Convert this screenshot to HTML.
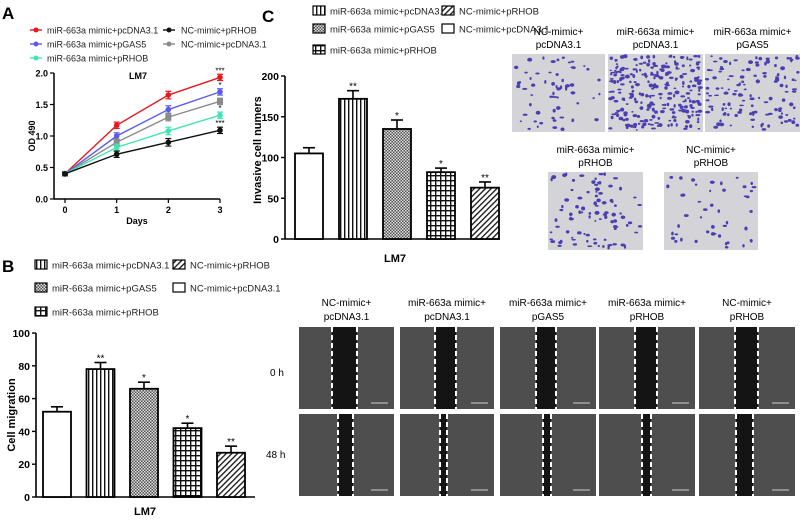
<!DOCTYPE html>
<html><head><meta charset="utf-8"><style>
html,body{margin:0;padding:0;background:#fff;}
svg{display:block;font-family:"Liberation Sans",Arial,sans-serif;}
</style></head><body>
<svg id="fig" width="800" height="521" viewBox="0 0 800 521">
<defs>
<pattern id="pVert" width="4" height="4" patternUnits="userSpaceOnUse"><rect width="4" height="4" fill="#fff"/><rect x="0" width="1.4" height="4" fill="#111"/></pattern>
<pattern id="pDense" width="3" height="3" patternUnits="userSpaceOnUse"><rect width="3" height="3" fill="#555"/><rect width="1.5" height="1.5" fill="#ddd"/><rect x="1.5" y="1.5" width="1.5" height="1.5" fill="#ddd"/></pattern>
<pattern id="pGrid" width="5" height="5" patternUnits="userSpaceOnUse"><rect width="5" height="5" fill="#fff"/><rect width="1.4" height="5" fill="#111"/><rect width="5" height="1.4" fill="#111"/></pattern>
<pattern id="pDiag" width="4" height="4" patternUnits="userSpaceOnUse" patternTransform="rotate(45)"><rect width="4" height="4" fill="#fff"/><rect width="1.3" height="4" fill="#111"/></pattern>
</defs>
<text x="2" y="19" font-size="17" font-weight="bold">A</text>
<text x="262" y="22" font-size="17" font-weight="bold">C</text>
<text x="2" y="272" font-size="17" font-weight="bold">B</text>
<g id="gA"></g><g id="gC"></g><g id="gB"></g><g id="gImgC"></g><g id="gImgB"></g>
</svg>
<script>
const NS="http://www.w3.org/2000/svg";
function mk(tag,attrs,parent,txt){const e=document.createElementNS(NS,tag);for(const k in attrs)e.setAttribute(k,attrs[k]);if(txt!==undefined)e.textContent=txt;parent.appendChild(e);return e;}
let seed=7;function rnd(){seed=(seed*9301+49297)%233280;return seed/233280;}

// ===== Panel A data =====
const daysA=[0,1,2,3];
const seriesNamesA=["miR-663a mimic+pcDNA3.1","miR-663a mimic+pGAS5","NC-mimic+pcDNA3.1","miR-663a mimic+pRHOB","NC-mimic+pRHOB"];
const redA=[0.40,1.17,1.65,1.93];
const blueA=[0.40,1.00,1.42,1.70];
const grayA=[0.40,0.90,1.30,1.55];
const cyanA=[0.40,0.82,1.08,1.33];
const blackA=[0.40,0.71,0.90,1.09];
const errA=[0.02,0.05,0.06,0.05];
const starsA=["***","*","","*","***"];
const yTicksA=["0.0","0.5","1.0","1.5","2.0"];
// ===== Panel C data =====
const groupsBar=["NC-mimic+pcDNA3.1","miR-663a mimic+pcDNA3.1","miR-663a mimic+pGAS5","miR-663a mimic+pRHOB","NC-mimic+pRHOB"];
const valuesC=[105,172,135,82,63];
const errC=[7,10,11,5,7];
const starsC=["","**","*","*","**"];
const yTicksC=["0","50","100","150","200"];
// ===== Panel B data =====
const valuesB=[52,78,66,42,27];
const errB=[3,4,4,3,4];
const starsB=["","**","*","*","**"];
const yTicksB=["0","20","40","60","80","100"];

const fills=["#fff","url(#pVert)","url(#pDense)","url(#pGrid)","url(#pDiag)"];

// ---- Panel A ----
(function(){
const g=document.getElementById('gA');
const x0=65,x1=220,y0=199,y1=73;
const xs=d=>x0+(x1-x0)*d/3, ys=v=>y0-(y0-y1)*v/2;
const cols=["#e8191e","#5b5bef","#8a8a8a","#3fe6b5","#111"];
const data=[redA,blueA,grayA,cyanA,blackA];
mk('line',{x1:54,y1:ys(0),x2:54,y2:ys(2),stroke:'#000','stroke-width':1.5},g);
mk('line',{x1:54,y1:ys(0),x2:x1,y2:ys(0),stroke:'#000','stroke-width':1.5},g);
yTicksA.forEach((t,i)=>{const y=ys(i*0.5);mk('line',{x1:50,y1:y,x2:54,y2:y,stroke:'#000','stroke-width':1.2},g);
 const tx=mk('text',{x:48,y:y+3.5,'font-size':9,'font-weight':'bold','text-anchor':'end'},g,t);});
daysA.forEach(d=>{const x=xs(d);mk('line',{x1:x,y1:ys(0),x2:x,y2:ys(0)+4,stroke:'#000','stroke-width':1.2},g);
 const tx=mk('text',{x:x,y:ys(0)+14,'font-size':9,'font-weight':'bold','text-anchor':'middle'},g,String(d));});
let t=mk('text',{x:137,y:224,'font-size':9,'font-weight':'bold','text-anchor':'middle'},g,'Days');
t=mk('text',{x:0,y:0,'font-size':9,'font-weight':'bold','text-anchor':'middle',transform:'translate(35,136) rotate(-90)'},g,'OD 490');
t=mk('text',{x:138,y:79,'font-size':9,'font-weight':'bold','text-anchor':'middle'},g,'LM7');
data.forEach((s,k)=>{
 const pts=s.map((v,i)=>xs(daysA[i])+','+ys(v)).join(' ');
 const pl=mk('polyline',{points:pts,fill:'none',stroke:cols[k],'stroke-width':1.4},g);
 
 s.forEach((v,i)=>{const x=xs(daysA[i]),y=ys(v),e=(y0-y1)*errA[i]/2;
  mk('line',{x1:x,y1:y-e,x2:x,y2:y+e,stroke:cols[k],'stroke-width':1.2},g);
  mk('line',{x1:x-3,y1:y-e,x2:x+3,y2:y-e,stroke:cols[k],'stroke-width':1.2},g);
  mk('line',{x1:x-3,y1:y+e,x2:x+3,y2:y+e,stroke:cols[k],'stroke-width':1.2},g);
  const m=k==2?mk('rect',{x:x-3,y:y-3,width:6,height:6,fill:cols[k]},g):mk('circle',{cx:x,cy:y,r:2.8,fill:cols[k]},g);
  
 });
 if(starsA[k]){const st=mk('text',{x:xs(3),y:ys(s[3])-(y0-y1)*errA[3]/2-1,'font-size':8,'text-anchor':'middle'},g,starsA[k]);}
});
const leg=[[30,30,0,47],[30,44,1,47],[30,58,3,47],[163,30,4,181],[163,44,2,181]];
leg.forEach(([x,y,k,tx0])=>{mk('line',{x1:x,y1:y,x2:x+12,y2:y,stroke:cols[k],'stroke-width':1.4},g);
 mk('circle',{cx:x+6,cy:y,r:2.5,fill:cols[k]},g);
 const tx=mk('text',{x:tx0,y:y+3.5,'font-size':9,fill:'#222'},g,seriesNamesA[k]);});
})();

// ---- bar chart helper ----
function barChart(g,p,vals,errs,stars,ticks,tmax,prefix){
 const ys=v=>p.y0-(p.y0-p.y1)*v/tmax;
 let e=mk('line',{x1:p.ax,y1:p.y0,x2:p.ax,y2:p.y1,stroke:'#000','stroke-width':1.6},g);
 e=mk('line',{x1:p.ax,y1:p.y0,x2:p.axEnd,y2:p.y0,stroke:'#000','stroke-width':1.6},g);
 ticks.forEach(t=>{const y=ys(+t);mk('line',{x1:p.ax-4,y1:y,x2:p.ax,y2:y,stroke:'#000','stroke-width':1.4},g);
  const tx=mk('text',{x:p.ax-6,y:y+4,'font-size':10.5,'font-weight':'bold','text-anchor':'end'},g,t);});
 vals.forEach((v,i)=>{const cx=p.c0+i*p.step,w=p.bw,y=ys(v),ey=ys(v+errs[i]);
  mk('line',{x1:cx,y1:y,x2:cx,y2:ey,stroke:'#000','stroke-width':1.6},g);
  mk('line',{x1:cx-6,y1:ey,x2:cx+6,y2:ey,stroke:'#000','stroke-width':1.6},g);
  const r=mk('rect',{x:cx-w/2,y:y,width:w,height:p.y0-y,fill:fills[i],stroke:'#000','stroke-width':1.8},g);
  
  if(stars[i]){const st=mk('text',{x:cx,y:ey-1,'font-size':10,'text-anchor':'middle'},g,stars[i]);}
 });
}
function barLegend(g,rows,prefix){
 rows.forEach(([x,y,k])=>{mk('rect',{x:x,y:y-5,width:12,height:9,fill:fills[k],stroke:'#000','stroke-width':1.2},g);
  const tx=mk('text',{x:x+17,y:y+3.5,'font-size':9.5,fill:'#222'},g,groupsBar[k]);
  });
}
// ---- Panel C ----
(function(){const g=document.getElementById('gC');
 barChart(g,{ax:285,axEnd:500,y0:239,y1:76,c0:309,step:44,bw:28},valuesC,errC,starsC,yTicksC,200,'c');
 barLegend(g,[[313,11,1],[313,29,2],[313,50,3],[442,11,4],[442,29,0]],'c');
 let t=mk('text',{x:395,y:262,'font-size':11,'font-weight':'bold','text-anchor':'middle'},g,'LM7');
 t=mk('text',{x:0,y:0,'font-size':11,'font-weight':'bold','text-anchor':'middle',transform:'translate(261,150) rotate(-90)'},g,'Invasive cell numers');
})();
// ---- Panel B ----
(function(){const g=document.getElementById('gB');
 barChart(g,{ax:36,axEnd:255,y0:497,y1:333,c0:57,step:43.5,bw:28},valuesB,errB,starsB,yTicksB,100,'b');
 barLegend(g,[[35,265,1],[35,288,2],[35,312,3],[173,265,4],[173,288,0]],'b');
 let t=mk('text',{x:145,y:515,'font-size':11,'font-weight':'bold','text-anchor':'middle'},g,'LM7');
 t=mk('text',{x:0,y:0,'font-size':11,'font-weight':'bold','text-anchor':'middle',transform:'translate(15,415) rotate(-90)'},g,'Cell migration');
})();
// ---- Invasion images (C) ----
(function(){const g=document.getElementById('gImgC');
 const imgs=[[512,54,93,78,'NC-mimic+','pcDNA3.1',60],[608,54,95,78,'miR-663a mimic+','pcDNA3.1',260],[705,54,95,78,'miR-663a mimic+','pGAS5',130],[548,172,95,78,'miR-663a mimic+','pRHOB',90],[664,172,94,78,'NC-mimic+','pRHOB',45]];
 imgs.forEach(([x,y,w,h,l1,l2,n])=>{
  const r=mk('rect',{x:x,y:y,width:w,height:h,fill:'#d3d3d8'},g);
  for(let i=0;i<n;i++){mk('ellipse',{cx:x+2+rnd()*(w-4),cy:y+2+rnd()*(h-4),rx:1+rnd()*1.6,ry:0.8+rnd()*1.2,fill:'#4a3fb0'},g);}
  let t=mk('text',{x:x+w/2,y:y-19,'font-size':10,'text-anchor':'middle'},g,l1);
  t=mk('text',{x:x+w/2,y:y-6,'font-size':10,'text-anchor':'middle'},g,l2);
 });
})();
// ---- Scratch images (B) ----
(function(){const g=document.getElementById('gImgB');
 const xs=[[299,394],[400,494],[500,596],[599,695],[699,795]];
 const gapTop=[[332,357],[435,456],[536,556],[635,657],[735,758]];
 const gapBot=[[338,353],[440,447],[543,551],[642,651],[736,753]];
 const lab=[['NC-mimic+','pcDNA3.1'],['miR-663a mimic+','pcDNA3.1'],['miR-663a mimic+','pGAS5'],['miR-663a mimic+','pRHOB'],['NC-mimic+','pRHOB']];
 xs.forEach(([a,b],i)=>{
  [[327,409,gapTop[i]],[414,496,gapBot[i]]].forEach(([y0,y1,gp])=>{
   const r=mk('rect',{x:a,y:y0,width:b-a,height:y1-y0,fill:'#4e4e4e'},g);
   mk('rect',{x:gp[0],y:y0,width:gp[1]-gp[0],height:y1-y0,fill:'#141414'},g);
   mk('line',{x1:gp[0],y1:y0,x2:gp[0],y2:y1,stroke:'#fff','stroke-width':2,'stroke-dasharray':'5,3'},g);
   mk('line',{x1:gp[1],y1:y0,x2:gp[1],y2:y1,stroke:'#fff','stroke-width':2,'stroke-dasharray':'5,3'},g);
   mk('line',{x1:b-23,y1:y1-6,x2:b-6,y2:y1-6,stroke:'#ccc','stroke-width':1},g);
  });
  let t=mk('text',{x:(a+b)/2,y:306,'font-size':10,'text-anchor':'middle'},g,lab[i][0]);
  t=mk('text',{x:(a+b)/2,y:320,'font-size':10,'text-anchor':'middle'},g,lab[i][1]);
 });
 let t=mk('text',{x:270,y:376,'font-size':10},g,'0 h');
 t=mk('text',{x:266,y:458,'font-size':10},g,'48 h');
})();
</script>
</body></html>
